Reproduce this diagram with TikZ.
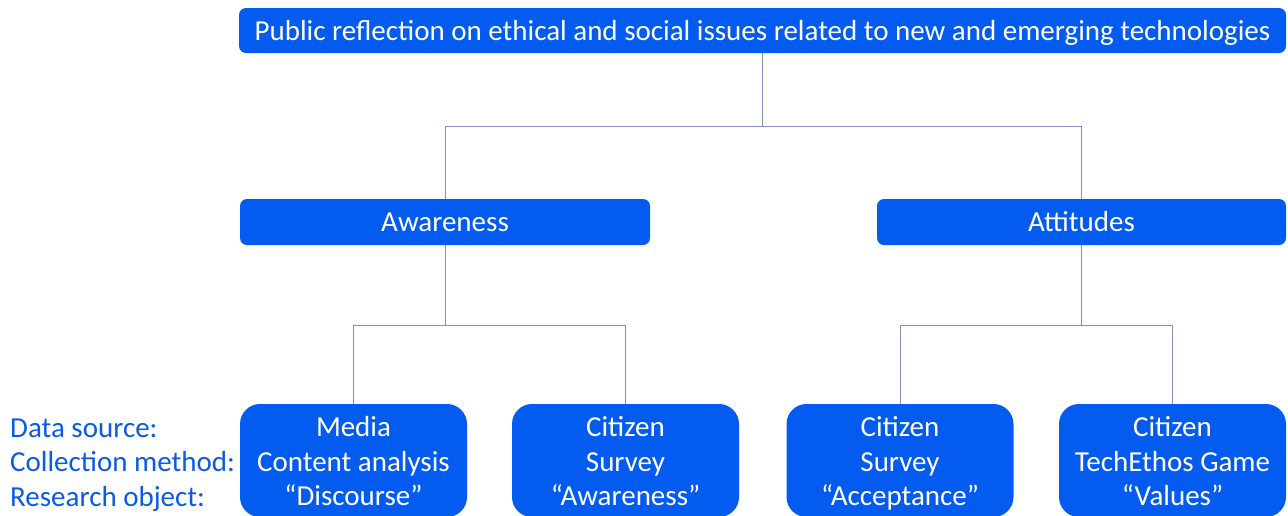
\documentclass[tikz,border=0pt]{standalone}
\usepackage{fontspec}
\setmainfont{Carlito}
\definecolor{boxblue}{HTML}{035CEF}
\definecolor{labelblue}{HTML}{0A5BE3}
\definecolor{linkgrey}{HTML}{7E92BE}
\newcommand{\bodyfont}{\fontsize{29}{34.5}\selectfont}
\begin{document}
\begin{tikzpicture}[x=1pt,y=-1pt,
  box/.style={fill=boxblue, text=white, draw=none, inner sep=0pt, align=center, font=\bodyfont},
  headbox/.style={box, rounded corners=7pt, minimum height=46pt, text height=23pt, text depth=4pt},
  leafbox/.style={box, rounded corners=20pt, minimum width=227pt, minimum height=113pt},
  leaftext/.style={text=white, inner sep=0pt, align=center, font=\bodyfont},
  link/.style={draw=linkgrey, line width=1pt},
  lbl/.style={text=labelblue, anchor=base west, inner sep=0pt, font=\bodyfont}]
\useasboundingbox (0,0) rectangle (1288,515);

% root
\node[headbox, minimum width=1047pt, minimum height=45pt] (root) at (762.5,30.5)
  {Public reflection on ethical and social issues related to new and emerging technologies};

% second level
\node[headbox, minimum width=410pt] (aware) at (445,222) {Awareness};
\node[headbox, minimum width=409pt] (attit) at (1081.5,222) {Attitudes};

% leaves: the rounded boxes, then their three lines of text
\node[leafbox] (media) at (353.5,460.5) {};
\node[leafbox] (surva) at (625.5,460.5) {};
\node[leafbox] (survb) at (900,460.5) {};
\node[leafbox] (game) at (1172.5,460.5) {};

\node[leaftext] (mediatxt) at ([yshift=-4pt]media.center)
  {\strut Media\\\strut Content analysis\\\strut “Discourse”};
\node[leaftext] (survatxt) at ([yshift=-4pt]surva.center)
  {\strut Citizen\\\strut Survey\\\strut “Awareness”};
\node[leaftext] (survbtxt) at ([yshift=-4pt]survb.center)
  {\strut Citizen\\\strut Survey\\\strut “Acceptance”};
\node[leaftext] (gametxt) at ([yshift=-4pt]game.center)
  {\strut Citizen\\\strut TechEthos Game\\\strut “Values”};

% row labels
\node[lbl] (lsrc) at (10,437) {Data source:};
\node[lbl] (lmeth) at (10,471.5) {Collection method:};
\node[lbl] (lobj) at (10,506) {Research object:};

% connectors
\coordinate (busA) at (root.south |- 0,126);
\draw[link] (root.south) -- (busA) -| (aware.north);
\draw[link] (busA) -| (attit.north);

\coordinate (busB) at (aware.south |- 0,325);
\draw[link] (aware.south) -- (busB) -| (media.north);
\draw[link] (busB) -| (surva.north);

\coordinate (busC) at (attit.south |- 0,325);
\draw[link] (attit.south) -- (busC) -| (survb.north);
\draw[link] (busC) -| (game.north);
\end{tikzpicture}
\end{document}
